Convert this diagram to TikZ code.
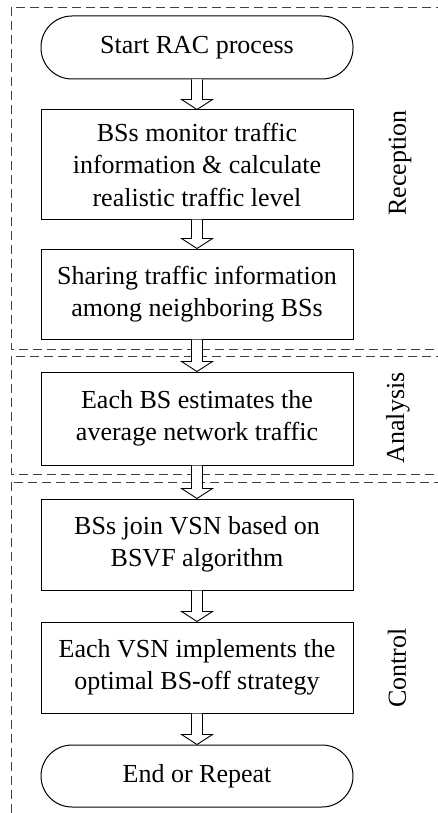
\documentclass[tikz,border=0pt]{standalone}
\usepackage{fontspec}
\setmainfont{Liberation Serif}
\usetikzlibrary{calc}
\tikzset{
  stepbox/.style={draw, line width=1pt, minimum width=312pt, align=center, inner sep=0pt,
    font=\fontsize{26}{32.5}\selectfont},
  term/.style={stepbox, rounded corners=31pt},
  frame/.style={draw=black!75, line width=0.9pt, dash pattern=on 9pt off 5pt},
  side/.style={rotate=90, font=\fontsize{26}{31}\selectfont},
  blockarrow/.style={draw, line width=0.9pt, fill=white}
}
\newcommand{\blockarr}[2]{%
  \path let \p1=(#1.south), \p2=(#2.north) in
    [blockarrow] (\x1-5.5pt,\y1) -- (\x1-5.5pt,\y2+10pt) -- (\x1-15.5pt,\y2+10pt)
    -- (\x1,\y2) -- (\x1+15.5pt,\y2+10pt) -- (\x1+5.5pt,\y2+10pt) -- (\x1+5.5pt,\y1);}
\begin{document}
\begin{tikzpicture}[x=1pt,y=-1pt]
\useasboundingbox (0,0) rectangle (438,813);
\clip (0,0) rectangle (438,813);
% frames
\draw[frame] (11,7) rectangle (460,349);
\draw[frame] (11,356) rectangle (460,474);
\draw[frame] (11,482) rectangle (460,830);
% nodes
\node[term, minimum height=63pt] (start) at (197,47.5) {Start RAC process};
\node[stepbox, minimum height=109pt] (b1) at (197,164.5) {BSs monitor traffic\\information \& calculate\\realistic traffic level};
\node[stepbox, minimum height=90pt] (b2) at (197,294) {Sharing traffic information\\among neighboring BSs};
\node[stepbox, minimum height=93pt] (b3) at (197,418.5) {Each BS estimates the\\average network traffic};
\node[stepbox, minimum height=91pt] (b4) at (197,544.5) {BSs join VSN based on\\BSVF algorithm};
\node[stepbox, minimum height=91pt] (b5) at (197,667.5) {Each VSN implements the\\optimal BS-off strategy};
\node[term, minimum height=62pt] (end) at (197,776) {End or Repeat};
% side labels
\node[side] (lblR) at (400,163) {Reception};
\node[side] (lblA) at (398,418) {Analysis};
\node[side] (lblC) at (397,668) {Control};
% arrows
\blockarr{start}{b1}
\blockarr{b1}{b2}
\blockarr{b2}{b3}
\blockarr{b3}{b4}
\blockarr{b4}{b5}
\blockarr{b5}{end}
\end{tikzpicture}
\end{document}
